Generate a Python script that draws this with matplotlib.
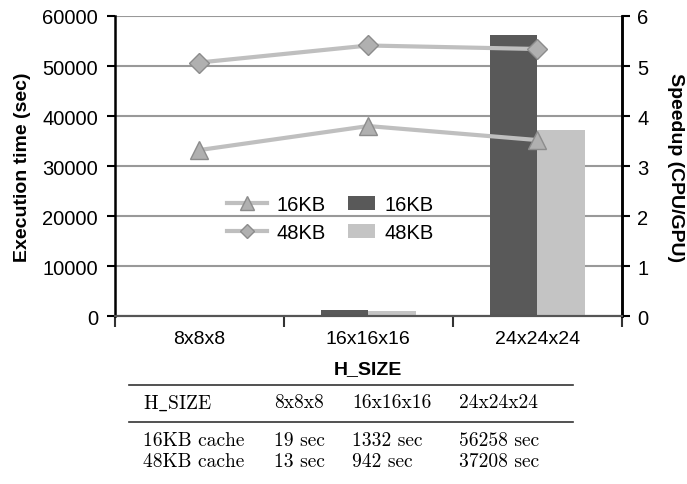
import numpy as np
import matplotlib.pyplot as plt
from matplotlib.lines import Line2D

sizes = ["8x8x8", "16x16x16", "24x24x24"]
time_16kb = [19, 1332, 56258]
time_48kb = [13, 942, 37208]
speedup_16kb = [3.32, 3.8, 3.52]
speedup_48kb = [5.07, 5.41, 5.34]
table_rows = [
    [r"$\mathrm{H\_SIZE}$", "8x8x8", "16x16x16", "24x24x24"],
    ["16KB cache", "19 sec", "1332 sec", "56258 sec"],
    ["48KB cache", "13 sec", "942 sec", "37208 sec"],
]

plt.rcParams['font.family'] = ['Liberation Sans', 'DejaVu Sans']
plt.rcParams['mathtext.fontset'] = 'cm'

fig = plt.figure(figsize=(6.87, 4.85), dpi=100)
ax = fig.add_axes([0.167, 0.346, 0.738, 0.619])
ax2 = ax.twinx()

x = np.arange(len(sizes))
w = 0.28
b1 = ax.bar(x - w / 2, time_16kb, w, color="#595959", zorder=2)
b2 = ax.bar(x + w / 2, time_48kb, w, color="#c4c4c4", zorder=2)

l1, = ax2.plot(x, speedup_16kb, color="#bfbfbf", lw=3, marker="^", ms=13,
               mfc="#b0b0b0", mec="#8c8c8c", mew=1)
l2, = ax2.plot(x, speedup_48kb, color="#bfbfbf", lw=3, marker="D", ms=10,
               mfc="#b0b0b0", mec="#8c8c8c", mew=1)

ax.set_xlim(-0.5, 2.5)
ax.set_ylim(0, 60000)
ax2.set_ylim(0, 6)
ax.set_yticks(range(0, 60001, 10000))
ax2.set_yticks(range(0, 7))
ax.yaxis.grid(True, color="#999999", lw=1.5, zorder=0)
ax.set_axisbelow(True)

ax.set_xticks(x)
ax.set_xticklabels(sizes, fontsize=14)
ax.tick_params(axis="x", length=0, pad=10)
ax.set_xticks([-0.5, 0.5, 1.5, 2.5], minor=True)
ax.tick_params(axis="x", which="minor", length=8, width=1.5, color="#333333", direction="out")
ax.tick_params(axis="y", labelsize=14.5, length=6, width=1.5, direction="out", pad=6)
ax2.tick_params(axis="y", labelsize=14.5, length=6, width=1.5, direction="out", pad=5)

for a in (ax, ax2):
    a.spines["top"].set_visible(False)
    a.spines["left"].set_linewidth(1.8)
    a.spines["right"].set_linewidth(1.8)
    a.spines["bottom"].set_linewidth(1.5)
    a.spines["bottom"].set_color("#555555")
ax2.spines["left"].set_visible(False)

ax.set_ylabel("Execution time (sec)", fontsize=14, fontweight="bold", labelpad=8)
ax2.set_ylabel("Speedup (CPU/GPU)", fontsize=14, fontweight="bold", rotation=270, labelpad=26)
ax.set_xlabel("H_SIZE", fontsize=14, fontweight="bold", labelpad=9)

leg1 = ax2.legend([l1, l2], ["16KB", "48KB"], frameon=False, fontsize=14.5,
                  loc="center left", bbox_to_anchor=(0.185, 0.325), markerscale=0.75,
                  handlelength=2.0, handletextpad=0.5, labelspacing=0.45)
ax2.add_artist(leg1)
ax2.legend([b1, b2], ["16KB", "48KB"], frameon=False, fontsize=14.5,
           loc="center left", bbox_to_anchor=(0.425, 0.325),
           handlelength=1.3, handletextpad=0.5, labelspacing=0.45)

# table below the chart
W, H = 687, 485
def fx(px):
    return px / W
def fy(py):
    return 1 - py / H

for yy in (386, 423):
    fig.add_artist(Line2D([fx(129), fx(573)], [fy(yy), fy(yy)], color="#333333", lw=1.2))
col_x = [143, 274, 352, 459]
row_y = [403, 441, 462]
for r, row in enumerate(table_rows):
    for c, txt in enumerate(row):
        fig.text(fx(col_x[c]), fy(row_y[r]), txt, family=['cmr10', 'DejaVu Serif'],
                 fontsize=14, ha="left", va="center")

fig.savefig("out.png", dpi=100)
